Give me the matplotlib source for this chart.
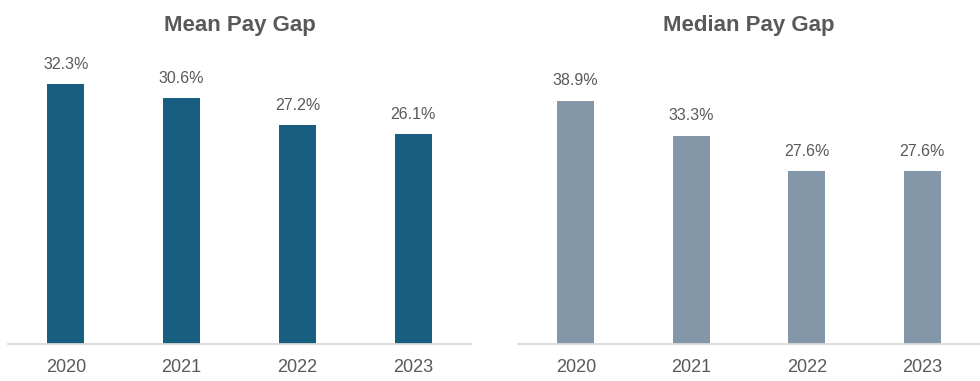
import matplotlib.pyplot as plt

years = ['2020', '2021', '2022', '2023']
mean_gap = [32.3, 30.6, 27.2, 26.1]
median_gap = [38.9, 33.3, 27.6, 27.6]

plt.rcParams['font.family'] = ['Liberation Sans', 'DejaVu Sans']
text_col = '#595959'

fig = plt.figure(figsize=(9.8, 3.81), dpi=100)
W, H = 980, 381
bottom = (H - 343.5) / H
height = (343.5 - 40) / H

panels = [
    (8, 471, mean_gap, '#175E80', 'Mean Pay Gap', 303.5 / 8.02),
    (518, 980, median_gap, '#8497A9', 'Median Pay Gap', 303.5 / 6.245),
]

for x0, x1, vals, col, title, ytop in panels:
    ax = fig.add_axes([x0 / W, bottom, (x1 - x0) / W, height])
    xs = range(len(years))
    ax.bar(xs, vals, width=0.32, color=col)
    ax.set_xlim(-0.5, 3.5)
    ax.set_ylim(0, ytop)
    ax.set_xticks(list(xs))
    ax.set_xticklabels(years)
    ax.set_yticks([])
    ax.tick_params(axis='x', length=0, pad=11, labelsize=13, labelcolor=text_col)
    for s in ['top', 'right', 'left']:
        ax.spines[s].set_visible(False)
    ax.spines['bottom'].set_color('#D9D9D9')
    ax.spines['bottom'].set_linewidth(1.3)
    for x, v in zip(xs, vals):
        ax.annotate(f'{v:.1f}%', (x, v), xytext=(0, 9), textcoords='offset points',
                    ha='center', va='bottom', fontsize=11.5, color=text_col)
    fig.text((x0 + x1) / 2 / W, 1 - 25 / H, title, ha='center', va='center',
             fontsize=16, fontweight='bold', color=text_col)

fig.savefig('out.png', dpi=100)
